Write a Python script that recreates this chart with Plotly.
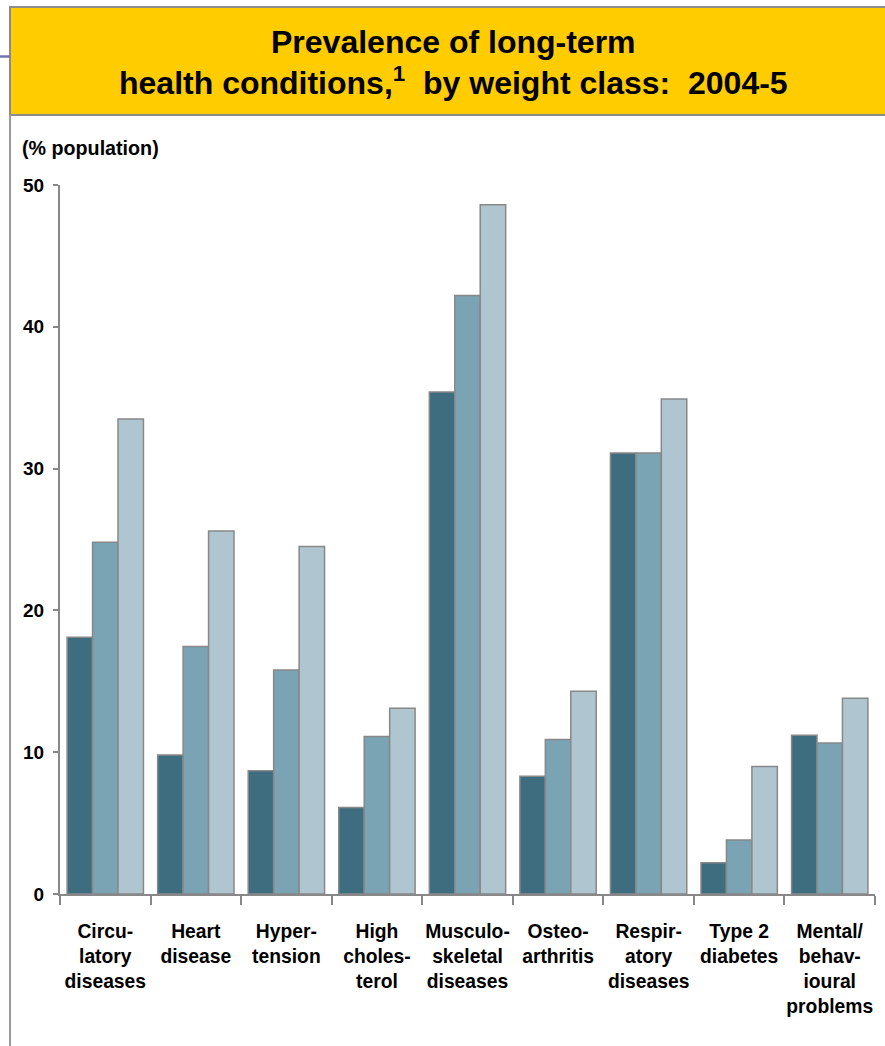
import plotly.graph_objects as go

# Long-term health conditions, share of population (%) by weight class, 2004-5
categories = [
    "Circu-<br>latory<br>diseases",
    "Heart<br>disease",
    "Hyper-<br>tension",
    "High<br>choles-<br>terol",
    "Musculo-<br>skeletal<br>diseases",
    "Osteo-<br>arthritis",
    "Respir-<br>atory<br>diseases",
    "Type 2<br>diabetes",
    "Mental/<br>behav-<br>ioural<br>problems",
]
normal_weight = [18.1, 9.8, 8.7, 6.1, 35.4, 8.3, 31.1, 2.2, 11.2]
overweight = [24.8, 17.45, 15.8, 11.1, 42.2, 10.9, 31.1, 3.8, 10.65]
obese = [33.5, 25.6, 24.5, 13.1, 48.6, 14.3, 34.9, 9.0, 13.8]

series_names = ["Normal weight", "Overweight", "Obese"]
series_values = [normal_weight, overweight, obese]
series_colors = ["#3e6d80", "#7aa3b4", "#afc6d0"]

W, H = 885, 1046
ML, MR, MT, MB = 60, 10, 185, 152
PW, PH = W - ML - MR, H - MT - MB


def px_x(x):
    return (x - ML) / PW


def px_y(y):
    return (H - MB - y) / PH


fig = go.Figure()
for name, vals, col in zip(series_names, series_values, series_colors):
    fig.add_trace(go.Bar(
        x=categories, y=vals, name=name,
        marker=dict(color=col, line=dict(color="#888888", width=1.5)),
        showlegend=False,
    ))

font_family = "Liberation Sans, Arial, sans-serif"

fig.update_layout(
    width=W, height=H,
    margin=dict(l=ML, r=MR, t=MT, b=MB, autoexpand=False),
    paper_bgcolor="white", plot_bgcolor="white",
    barmode="group", bargap=0.157, bargroupgap=0,
    font=dict(family=font_family, color="black"),
    xaxis=dict(
        type="category", showline=True, linecolor="#888888", linewidth=2,
        ticks="outside", tickson="boundaries", ticklen=9, tickcolor="#888888",
        tickwidth=2, showgrid=False, tickangle=0, automargin=False,
        ticklabelstandoff=19,
        tickfont=dict(size=19.3, family=font_family, color="black", weight="bold"),
    ),
    yaxis=dict(
        range=[0, 50], tickvals=[0, 10, 20, 30, 40, 50],
        showline=True, linecolor="#888888", linewidth=2,
        ticks="outside", ticklen=5, tickcolor="#888888", tickwidth=2,
        ticklabelstandoff=5, showgrid=False, zeroline=False, automargin=False,
        tickfont=dict(size=19, family=font_family, color="black", weight="bold"),
    ),
)

shapes = [
    # left frame rule
    dict(type="line", xref="paper", yref="paper",
         x0=px_x(10), x1=px_x(10), y0=px_y(115), y1=px_y(1050),
         line=dict(color="#999999", width=2)),
    # small accent rule at the left edge
    dict(type="line", xref="paper", yref="paper",
         x0=px_x(-2), x1=px_x(10), y0=px_y(56.5), y1=px_y(56.5),
         line=dict(color="#7373b0", width=2.5)),
    # title banner
    dict(type="rect", xref="paper", yref="paper",
         x0=px_x(10), x1=px_x(900), y0=px_y(115), y1=px_y(7),
         fillcolor="#ffcc00", line=dict(color="#8c8c8c", width=2), layer="below"),
]
fig.update_layout(shapes=shapes)

title_font = dict(size=32, family=font_family, color="black", weight="bold")
fig.add_annotation(
    xref="paper", yref="paper", x=px_x(453), y=px_y(42),
    xanchor="center", yanchor="middle", showarrow=False,
    text="Prevalence of long-term", font=title_font,
)
fig.add_annotation(
    xref="paper", yref="paper", x=px_x(453), y=px_y(81),
    xanchor="center", yanchor="middle", showarrow=False,
    text="health conditions,<sup>1</sup>\u00a0\u00a0by weight class:\u00a0\u00a02004-5",
    font=title_font,
)
fig.add_annotation(
    xref="paper", yref="paper", x=px_x(20), y=px_y(148),
    xanchor="left", yanchor="middle", showarrow=False,
    text="(% population)",
    font=dict(size=19.7, family=font_family, color="black", weight="bold"),
)

fig.write_html("out.html")
